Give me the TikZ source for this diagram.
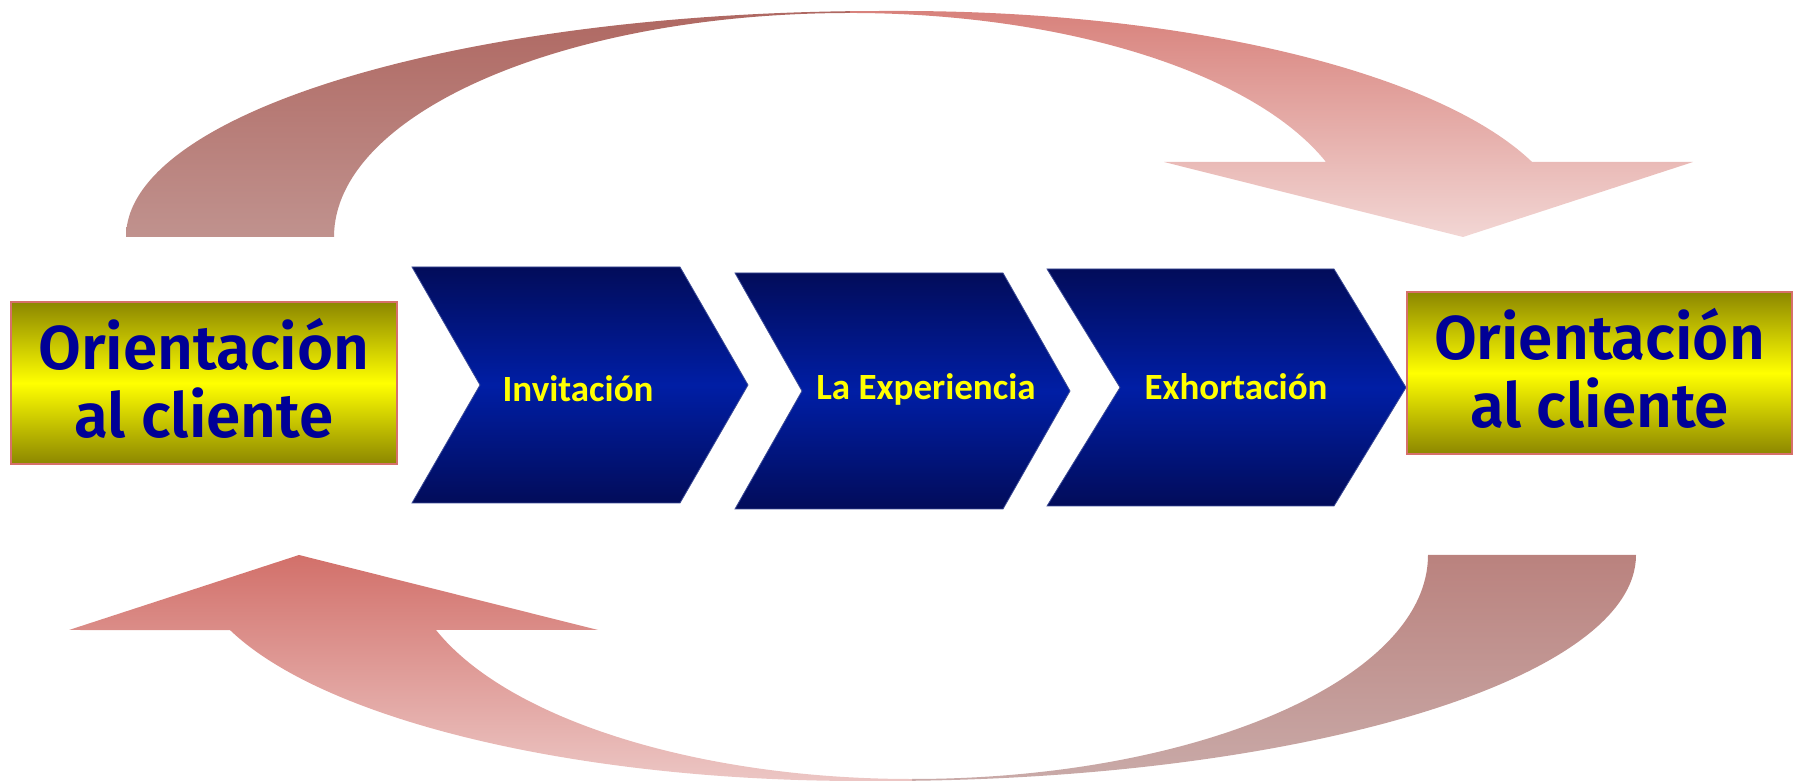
\documentclass[tikz,border=0pt]{standalone}
\usepackage{fontspec}
\newfontfamily\boxfont{Fira Sans SemiBold}
\newfontfamily\stepfont{Carlito}

% palette
\definecolor{boxblue}{RGB}{0,0,150}
\definecolor{stepyellow}{RGB}{255,255,0}
\definecolor{olivedark}{RGB}{140,135,0}
\definecolor{boxyellow}{RGB}{255,255,0}
\definecolor{boxedge}{RGB}{214,112,106}
\definecolor{navyedge}{RGB}{2,12,90}
\definecolor{navymid}{RGB}{0,30,165}
\definecolor{navyline}{RGB}{60,75,150}
\definecolor{tdarktop}{RGB}{175,104,98}
\definecolor{tdarkbot}{RGB}{192,146,142}
\definecolor{tlighttop}{RGB}{216,130,124}
\definecolor{tlightbot}{RGB}{242,214,212}
\definecolor{blighttop}{RGB}{210,112,106}
\definecolor{blightbot}{RGB}{236,198,196}
\definecolor{bdarktop}{RGB}{186,130,126}
\definecolor{bdarkbot}{RGB}{201,170,168}

\begin{document}
\begin{tikzpicture}[x=1pt,y=1pt,
  goalbox/.style={rectangle, inner sep=0pt, top color=olivedark, bottom color=olivedark,
    middle color=boxyellow, draw=boxedge, line width=2.5pt},
  goaltext/.style={font=\boxfont\fontsize{62}{68}\selectfont, text=boxblue,
    anchor=base, inner sep=0pt},
  stepshape/.style={top color=navyedge, bottom color=navyedge, middle color=navymid,
    draw=navyline, line width=0.8pt, line join=miter},
  steptext/.style={font=\stepfont\bfseries\fontsize{37}{44}\selectfont, text=stepyellow,
    anchor=base, inner sep=0pt},
]
\useasboundingbox (0,0) rectangle (1799,781);

% upper return arrow: rear band and arrow part
\path[top color=tdarktop, bottom color=tdarkbot]
  (334,544) -- (126,544) arc[start angle=180, end angle=92.35, x radius=755, y radius=226]
  -- (850,768) arc[start angle=90, end angle=180, x radius=516, y radius=224] -- cycle;
\path[top color=tlighttop, bottom color=tlightbot]
  (850,768) -- (850,769.8) -- (881,770) -- (901,770)
  arc[start angle=90, end angle=19.4, x radius=669, y radius=226]
  -- (1693,619) -- (1463,544) -- (1164,619) -- (1326,619)
  arc[start angle=19.56, end angle=90, x radius=505, y radius=224] -- cycle;

% lower return arrow
\path[top color=bdarktop, bottom color=bdarkbot]
  (1428,226) -- (1636,226) arc[start angle=0, end angle=-87.65, x radius=755, y radius=226]
  -- (912,2) arc[start angle=-90, end angle=0, x radius=516, y radius=224] -- cycle;
\path[top color=blighttop, bottom color=blightbot]
  (912,2) -- (912,0.2) -- (881,0) -- (861,0)
  arc[start angle=270, end angle=199.4, x radius=669, y radius=226]
  -- (69,151) -- (299,226) -- (598,151) -- (436,151)
  arc[start angle=199.56, end angle=270, x radius=505, y radius=224] -- cycle;

% process chevrons
\path[stepshape] (412,514) -- (680,514) -- (748,396) -- (680,278) -- (412,278) -- (480,396) -- cycle;
\path[stepshape] (735,508) -- (1003,508) -- (1070,390) -- (1003,272) -- (735,272) -- (802,390) -- cycle;
\path[stepshape] (1047,512) -- (1334,512) -- (1406,393.5) -- (1334,275) -- (1047,275) -- (1120,393.5) -- cycle;

\node[steptext] (inv) at (578,379) {Invitación};
\node[steptext] (exp) at (926,381) {La Experiencia};
\node[steptext] (exh) at (1236,381) {Exhortación};

% customer-orientation boxes
\node[goalbox, minimum width=386pt, minimum height=162pt] (leftbox) at (204,398) {};
\node[goaltext] (lefttop) at (204,411) {Orientación};
\node[goaltext] (leftbot) at (204,343) {al cliente};

\node[goalbox, minimum width=385pt, minimum height=162pt] (rightbox) at (1599.5,408) {};
\node[goaltext] (righttop) at (1599.5,421) {Orientación};
\node[goaltext] (rightbot) at (1599.5,353) {al cliente};
\end{tikzpicture}
\end{document}
